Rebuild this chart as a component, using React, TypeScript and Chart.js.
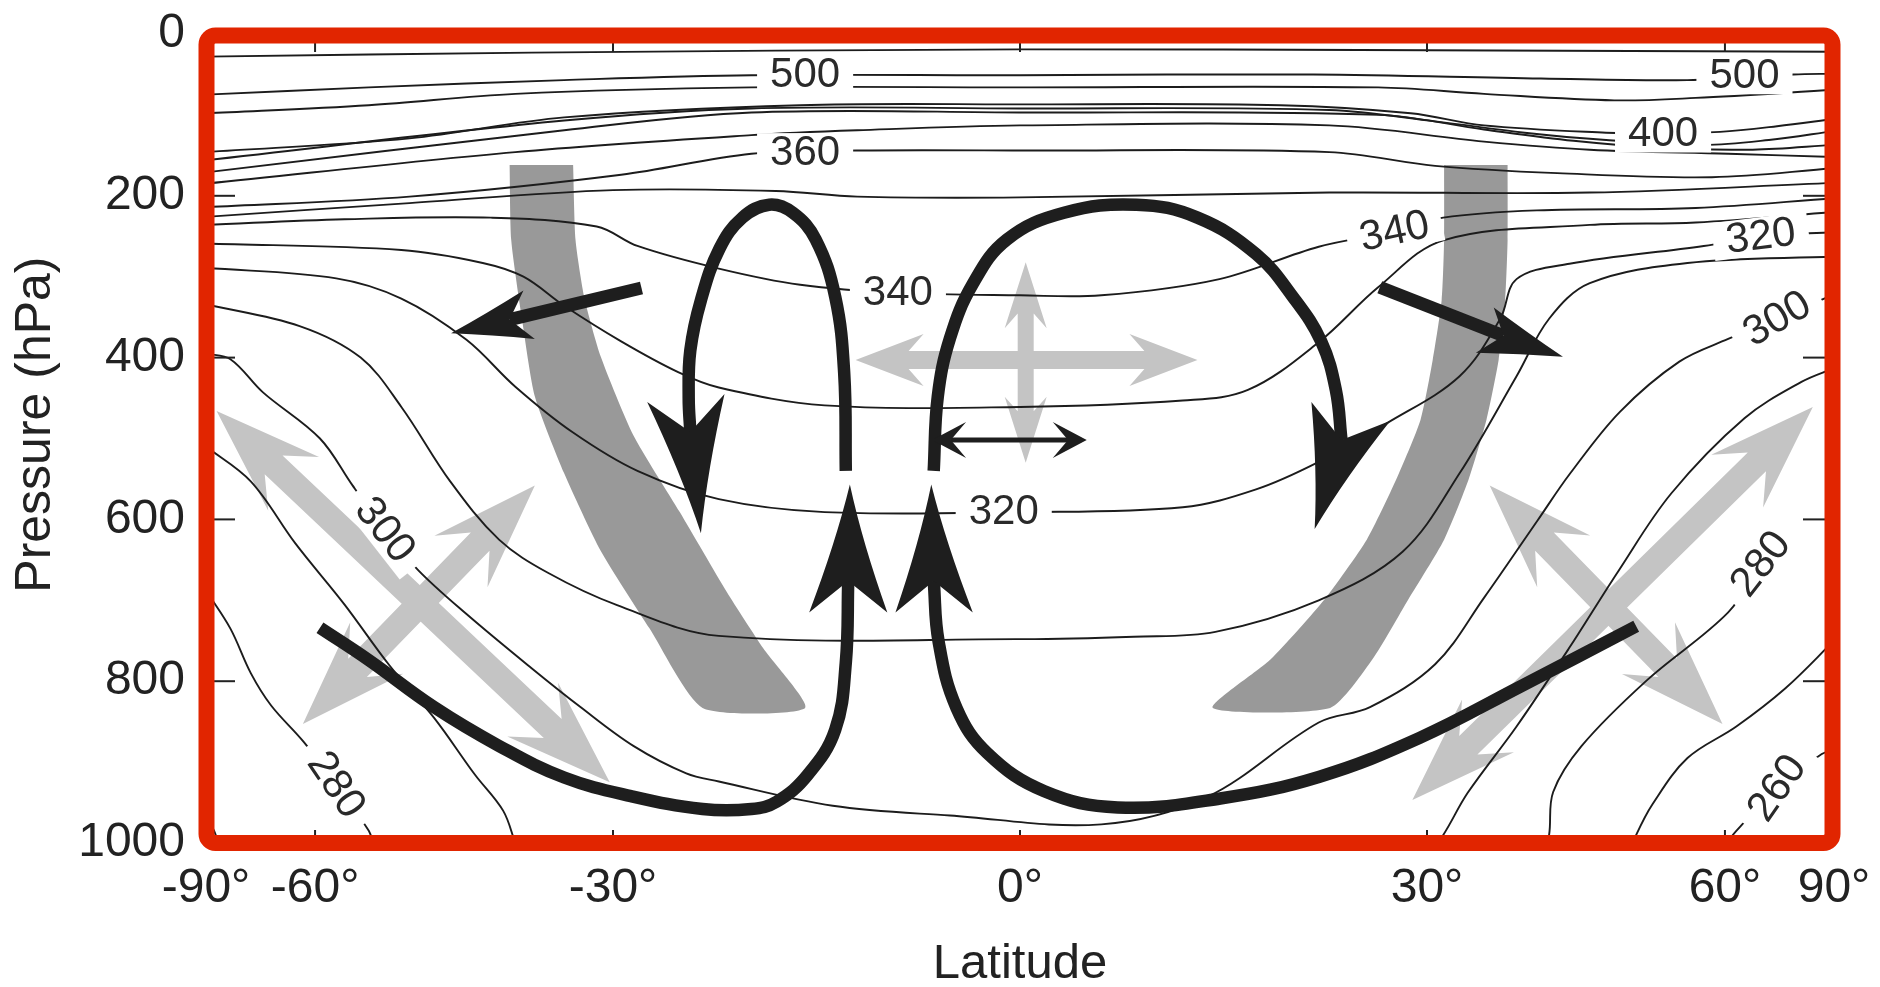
import React, { useEffect, useRef } from "react";
import { Chart, registerables } from "chart.js";

Chart.register(...registerables);

// Every point is [sin(latitude), pressure in hPa]
type Pt = [number, number];

const LAT_TICKS = [-90, -60, -30, 0, 30, 60, 90];
const PRESSURE_TICKS = [0, 200, 400, 600, 800, 1000];

// ---- potential temperature isentropes (K) ----
const THETA_TOP: Pt[] = [[-1, 28], [-0.6, 23], [0, 19], [0.5, 20], [1, 22]];
const THETA_500: Pt[] = [[-1, 75], [-0.8, 66], [-0.56, 57], [-0.33, 51], [0, 51], [0.36, 50], [0.64, 55], [0.82, 57], [0.95, 50], [1, 49]];
const THETA_460: Pt[] = [[-1, 98], [-0.8, 88], [-0.62, 74], [-0.33, 66], [0, 66], [0.44, 66], [0.57, 74], [0.73, 82], [0.83, 79], [1, 69]];
const THETA_400: Pt[] = [[-1, 146], [-0.75, 129], [-0.56, 103], [-0.27, 88], [0, 87], [0.32, 88], [0.48, 98], [0.57, 113], [0.72, 122], [0.79, 123], [0.86, 121], [0.93, 114], [1, 105]];
const THETA_390: Pt[] = [[-1, 156], [-0.56, 107], [-0.33, 92], [0, 92], [0.38, 94], [0.51, 108], [0.62, 122], [0.72, 131], [0.84, 137], [0.92, 131], [1, 120]];
const THETA_380: Pt[] = [[-1, 171], [-0.56, 119], [-0.33, 97], [0, 97], [0.44, 100], [0.57, 118], [0.68, 132], [0.78, 140], [0.9, 143], [1, 137]];
const THETA_370: Pt[] = [[-1, 185], [-0.62, 146], [-0.33, 125], [-0.2, 119], [0, 113], [0.38, 113], [0.57, 133], [0.7, 143], [0.87, 148], [1, 152]];
const THETA_360: Pt[] = [[-1, 214], [-0.75, 201], [-0.49, 174], [-0.33, 148], [-0.2, 144], [0, 144], [0.38, 146], [0.51, 163], [0.66, 172], [0.85, 177], [1, 166]];
const THETA_350: Pt[] = [[-1, 226], [-0.75, 209], [-0.5, 193], [-0.3, 194], [-0.2, 201], [0, 202], [0.38, 196], [0.7, 196], [1, 184]];
const THETA_340: Pt[] = [[-1, 236], [-0.83, 229], [-0.65, 227], [-0.52, 238], [-0.47, 262], [-0.37, 290], [-0.27, 310], [-0.15, 320], [0, 323], [0.1, 323], [0.245, 303], [0.367, 263], [0.46, 244], [0.52, 227], [0.635, 218], [0.83, 215], [1, 203]];
const THETA_330: Pt[] = [[-1, 259], [-0.76, 267], [-0.66, 283], [-0.61, 300], [-0.56, 336], [-0.49, 380], [-0.42, 418], [-0.37, 437], [-0.24, 459], [0, 461], [0.2, 453], [0.28, 440], [0.367, 381], [0.44, 313], [0.52, 255], [0.7, 236], [0.83, 233], [1, 220]];
const THETA_320: Pt[] = [[-1, 289], [-0.84, 302], [-0.76, 327], [-0.68, 378], [-0.62, 436], [-0.55, 492], [-0.47, 540], [-0.37, 575], [-0.24, 591], [0, 591], [0.2, 585], [0.29, 563], [0.367, 529], [0.451, 481], [0.54, 423], [0.59, 352], [0.61, 303], [0.675, 284], [0.84, 262], [0.91, 250], [1, 245]];
const THETA_310: Pt[] = [[-1, 334], [-0.885, 361], [-0.81, 400], [-0.76, 461], [-0.7, 553], [-0.64, 625], [-0.58, 666], [-0.495, 706], [-0.37, 744], [0, 748], [0.14, 745], [0.24, 739], [0.367, 700], [0.47, 640], [0.54, 543], [0.61, 423], [0.65, 352], [0.7, 308], [0.82, 283], [1, 275]];
const THETA_300: Pt[] = [[-1, 395], [-0.97, 402], [-0.93, 443], [-0.86, 500], [-0.82, 558], [-0.78, 613], [-0.74, 662], [-0.68, 717], [-0.6, 784], [-0.54, 832], [-0.475, 880], [-0.41, 914], [-0.37, 924], [-0.23, 954], [-0.086, 966], [0.1, 977], [0.23, 943], [0.367, 851], [0.43, 832], [0.51, 779], [0.57, 697], [0.636, 601], [0.676, 543], [0.737, 467], [0.81, 405], [0.87, 377], [0.93, 352], [1, 322]];
const THETA_290_S: Pt[] = [[-1, 510], [-0.945, 553], [-0.89, 630], [-0.83, 705], [-0.775, 780], [-0.72, 845], [-0.67, 915], [-0.635, 960], [-0.62, 1000]];
const THETA_290_N: Pt[] = [[0.51, 1000], [0.52, 990], [0.55, 938], [0.61, 856], [0.674, 760], [0.735, 664], [0.8, 568], [0.89, 475], [0.96, 430], [1, 413]];
const THETA_280_S: Pt[] = [[-1, 688], [-0.97, 735], [-0.945, 790], [-0.92, 830], [-0.88, 875], [-0.84, 928], [-0.8, 985], [-0.795, 1000]];
const THETA_280_N: Pt[] = [[0.645, 1000], [0.65, 990], [0.655, 937], [0.69, 880], [0.77, 799], [0.87, 715], [0.91, 655]];
const THETA_270_S: Pt[] = [[-1, 967], [-0.99, 985], [-0.985, 1000]];
const THETA_270_N: Pt[] = [[0.755, 1000], [0.757, 990], [0.777, 952], [0.82, 895], [0.88, 856], [0.94, 809], [1, 750]];
const THETA_260_N: Pt[] = [[0.868, 1000], [0.88, 985], [0.93, 932], [0.985, 890], [1, 885]];

const CONTOURS: Pt[][] = [
  THETA_TOP, THETA_500, THETA_460, THETA_400, THETA_390, THETA_380, THETA_370, THETA_360,
  THETA_350, THETA_340, THETA_330, THETA_320, THETA_310, THETA_300,
  THETA_290_S, THETA_290_N, THETA_280_S, THETA_280_N, THETA_270_S, THETA_270_N, THETA_260_N,
];

// [text, sinLat, hPa, rotation deg]
const CONTOUR_LABELS: [string, number, number, number][] = [
  ["500", -0.264, 50, 0], ["360", -0.264, 146, 0], ["340", -0.15, 320, 0], ["320", -0.02, 590, 0],
  ["300", -0.78, 613, 52], ["280", -0.84, 928, 56],
  ["500", 0.89, 51, 0], ["400", 0.79, 123, 0], ["340", 0.46, 244, -12], ["320", 0.91, 250, -7],
  ["300", 0.93, 352, -30], ["280", 0.91, 655, -52], ["260", 0.93, 932, -55],
];

// ---- dark grey bands ----
const BAND_SH: Pt[] = [[-0.627, 162], [-0.625, 255], [-0.612, 351], [-0.596, 448], [-0.56, 543], [-0.515, 639], [-0.455, 735], [-0.39, 833], [-0.264, 833], [-0.315, 760], [-0.36, 690], [-0.418, 591], [-0.475, 496], [-0.515, 399], [-0.535, 327], [-0.546, 255], [-0.549, 162]];
const BAND_NH: Pt[] = [[0.521, 162], [0.521, 255], [0.518, 329], [0.507, 403], [0.492, 477], [0.462, 551], [0.426, 625], [0.374, 699], [0.308, 773], [0.237, 833], [0.381, 833], [0.433, 773], [0.477, 699], [0.521, 625], [0.551, 551], [0.573, 477], [0.588, 403], [0.596, 329], [0.599, 255], [0.599, 162]];

// ---- Hadley circulation paths ----
const HADLEY_SH_UPPER: Pt[] = [[-0.214, 540], [-0.216, 419], [-0.227, 325], [-0.251, 254], [-0.279, 221], [-0.308, 211], [-0.341, 227], [-0.369, 265], [-0.392, 329], [-0.405, 391], [-0.407, 450], [-0.405, 492]];
const HADLEY_SH_LOWER: Pt[] = [[-0.86, 734], [-0.8, 774], [-0.72, 832], [-0.64, 880], [-0.56, 919], [-0.478, 942], [-0.39, 958], [-0.33, 958], [-0.299, 949], [-0.261, 916], [-0.227, 860], [-0.214, 777], [-0.211, 676]];
const HADLEY_NH_UPPER: Pt[] = [[-0.106, 540], [-0.101, 448], [-0.086, 376], [-0.058, 309], [-0.016, 254], [0.054, 221], [0.143, 211], [0.218, 227], [0.29, 272], [0.336, 326], [0.37, 380], [0.388, 440], [0.395, 502]];
const HADLEY_NH_LOWER: Pt[] = [[0.757, 732], [0.614, 807], [0.491, 870], [0.368, 918], [0.246, 945], [0.12, 956], [0.03, 936], [-0.04, 889], [-0.078, 833], [-0.1, 751], [-0.106, 676]];
const HADLEY_PATHS: Pt[][] = [HADLEY_SH_UPPER, HADLEY_SH_LOWER, HADLEY_NH_UPPER, HADLEY_NH_LOWER];

// arrow heads: tip, barbA, notch, barbB
const HADLEY_HEADS: [Pt, Pt, Pt, Pt][] = [
  [[-0.392, 617], [-0.458, 455], [-0.405, 492], [-0.363, 445]],
  [[-0.209, 557], [-0.259, 715], [-0.211, 676], [-0.163, 715]],
  [[-0.109, 557], [-0.153, 715], [-0.106, 676], [-0.058, 715]],
  [[0.362, 612], [0.358, 455], [0.395, 502], [0.455, 478]],
];

// eddy flux arrows: start, tip, barbA, notch, barbB
const EDDY_ARROWS: [Pt, Pt, Pt, Pt, Pt][] = [
  [[-0.465, 314], [-0.699, 370], [-0.61, 317], [-0.627, 353], [-0.596, 377]],
  [[0.442, 313], [0.667, 399], [0.582, 338], [0.594, 373], [0.56, 394]],
];

// light grey mixing arrows (double headed), tip to tip
const MIXING_ARROWS: [Pt, Pt][] = [
  [[-0.987, 466], [-0.504, 925]],
  [[-0.881, 853], [-0.596, 558]],
  [[0.482, 947], [0.974, 461]],
  [[0.577, 558], [0.863, 853]],
];
const TROPICAL_ARROWS: [Pt, Pt][] = [
  [[-0.202, 403], [0.218, 403]],
  [[0.007, 282], [0.007, 530]],
];
const EXCHANGE_ARROW: [Pt, Pt] = [[-0.108, 502], [0.082, 502]];

const FONT = '"Liberation Sans", Arial, Helvetica, sans-serif';
const INK = "#1e1e1e";

function toPx(chart: any, pt: Pt): [number, number] {
  return [chart.scales.x.getPixelForValue(pt[0]), chart.scales.y.getPixelForValue(pt[1])];
}

function fillPoly(ctx: CanvasRenderingContext2D, pts: number[][]) {
  ctx.beginPath();
  ctx.moveTo(pts[0][0], pts[0][1]);
  for (let i = 1; i < pts.length; i++) ctx.lineTo(pts[i][0], pts[i][1]);
  ctx.closePath();
  ctx.fill();
}

function doubleArrow(ctx: CanvasRenderingContext2D, a: number[], b: number[], shaft: number, headLen: number, headHalf: number, notch: number) {
  const dx = b[0] - a[0], dy = b[1] - a[1];
  const len = Math.hypot(dx, dy);
  const ux = dx / len, uy = dy / len, nx = -uy, ny = ux;
  const P = (t: number, o: number) => [a[0] + ux * t + nx * o, a[1] + uy * t + ny * o];
  const hn = headLen * notch;
  fillPoly(ctx, [
    P(0, 0), P(headLen, headHalf), P(hn, shaft / 2), P(len - hn, shaft / 2), P(len - headLen, headHalf),
    P(len, 0), P(len - headLen, -headHalf), P(len - hn, -shaft / 2), P(hn, -shaft / 2), P(headLen, -headHalf),
  ]);
}

function dartHead(ctx: CanvasRenderingContext2D, tip: number[], barbA: number[], notch: number[], barbB: number[], concave: number) {
  const mid = [(tip[0] + notch[0]) / 2, (tip[1] + notch[1]) / 2];
  const ctrl = (b: number[]) => {
    const m = [(b[0] + tip[0]) / 2, (b[1] + tip[1]) / 2];
    return [m[0] + (mid[0] - m[0]) * concave, m[1] + (mid[1] - m[1]) * concave];
  };
  const cA = ctrl(barbA), cB = ctrl(barbB);
  ctx.beginPath();
  ctx.moveTo(tip[0], tip[1]);
  ctx.quadraticCurveTo(cA[0], cA[1], barbA[0], barbA[1]);
  ctx.lineTo(notch[0], notch[1]);
  ctx.lineTo(barbB[0], barbB[1]);
  ctx.quadraticCurveTo(cB[0], cB[1], tip[0], tip[1]);
  ctx.closePath();
  ctx.fill();
}

const decorPlugin = {
  id: "decor",
  beforeDatasetsDraw(chart: any) {
    const { ctx, chartArea: a } = chart;
    ctx.save();
    ctx.beginPath();
    ctx.rect(a.left, a.top, a.right - a.left, a.bottom - a.top);
    ctx.clip();
    ctx.fillStyle = "#c4c4c4";
    for (const [f, t] of MIXING_ARROWS) doubleArrow(ctx, toPx(chart, f), toPx(chart, t), 26, 106, 37, 0.74);
    doubleArrow(ctx, toPx(chart, TROPICAL_ARROWS[0][0]), toPx(chart, TROPICAL_ARROWS[0][1]), 18, 68, 26, 0.78);
    doubleArrow(ctx, toPx(chart, TROPICAL_ARROWS[1][0]), toPx(chart, TROPICAL_ARROWS[1][1]), 16, 66, 21, 0.78);
    ctx.restore();
  },
  afterDatasetDraw(chart: any, args: any) {
    const ds = chart.data.datasets[args.index];
    if (!ds || !ds.labelLayer) return;
    const { ctx } = chart;
    ctx.save();
    ctx.font = `42px ${FONT}`;
    ctx.textAlign = "center";
    ctx.textBaseline = "middle";
    for (const [text, s, p, rot] of CONTOUR_LABELS) {
      const [X, Y] = toPx(chart, [s, p]);
      ctx.save();
      ctx.translate(X, Y);
      ctx.rotate((rot * Math.PI) / 180);
      const w = ctx.measureText(text).width;
      ctx.fillStyle = "#ffffff";
      ctx.fillRect(-w / 2 - 13, -19, w + 26, 38);
      ctx.fillStyle = "#2a2a2a";
      ctx.fillText(text, 0, 1);
      ctx.restore();
    }
    ctx.restore();
  },
  afterDatasetsDraw(chart: any) {
    const { ctx } = chart;
    ctx.save();
    ctx.fillStyle = INK;
    ctx.strokeStyle = INK;
    for (const [tip, bA, n, bB] of HADLEY_HEADS) {
      dartHead(ctx, toPx(chart, tip), toPx(chart, bA), toPx(chart, n), toPx(chart, bB), 0.3);
    }
    for (const [start, tip, bA, n, bB] of EDDY_ARROWS) {
      const s0 = toPx(chart, start), nn = toPx(chart, n);
      ctx.lineWidth = 13;
      ctx.lineCap = "butt";
      ctx.beginPath();
      ctx.moveTo(s0[0], s0[1]);
      ctx.lineTo(nn[0], nn[1]);
      ctx.stroke();
      dartHead(ctx, toPx(chart, tip), toPx(chart, bA), nn, toPx(chart, bB), 0.12);
    }
    const a = toPx(chart, EXCHANGE_ARROW[0]), b = toPx(chart, EXCHANGE_ARROW[1]);
    const L = 34, hw = 18, notch = 0.55;
    ctx.lineWidth = 5;
    ctx.beginPath();
    ctx.moveTo(a[0] + L * notch, a[1]);
    ctx.lineTo(b[0] - L * notch, b[1]);
    ctx.stroke();
    fillPoly(ctx, [[a[0], a[1]], [a[0] + L, a[1] - hw], [a[0] + L * notch, a[1]], [a[0] + L, a[1] + hw]]);
    fillPoly(ctx, [[b[0], b[1]], [b[0] - L, b[1] - hw], [b[0] - L * notch, b[1]], [b[0] - L, b[1] + hw]]);
    ctx.restore();
  },
  afterDraw(chart: any) {
    const { ctx, chartArea: a, scales } = chart;
    ctx.save();
    ctx.strokeStyle = "#222";
    ctx.lineWidth = 2;
    const seg = (x1: number, y1: number, x2: number, y2: number) => {
      ctx.beginPath();
      ctx.moveTo(x1, y1);
      ctx.lineTo(x2, y2);
      ctx.stroke();
    };
    for (const lat of LAT_TICKS) {
      if (Math.abs(lat) === 90) continue;
      const X = scales.x.getPixelForValue(Math.sin((lat * Math.PI) / 180));
      seg(X, a.top, X, a.top + 18);
      seg(X, a.bottom, X, a.bottom - 13);
    }
    for (const p of PRESSURE_TICKS) {
      if (p === 0 || p === 1000) continue;
      const Y = scales.y.getPixelForValue(p);
      seg(a.left, Y, a.left + 29, Y);
      seg(a.right, Y, a.right - 31, Y);
    }
    ctx.strokeStyle = "#e12500";
    ctx.lineWidth = 16;
    ctx.lineJoin = "round";
    ctx.beginPath();
    if ((ctx as any).roundRect) (ctx as any).roundRect(a.left + 0.5, a.top + 1.5, a.right - a.left - 2, a.bottom - a.top - 1.5, 9);
    else ctx.rect(a.left + 0.5, a.top + 1.5, a.right - a.left - 2, a.bottom - a.top - 1.5);
    ctx.stroke();
    ctx.restore();
  },
};

const xy = (pts: Pt[]) => pts.map(([x, y]) => ({ x, y }));

export default function App() {
  const ref = useRef<HTMLCanvasElement | null>(null);

  useEffect(() => {
    if (!ref.current) return;
    const datasets: any[] = [];
    for (const band of [BAND_SH, BAND_NH]) {
      datasets.push({
        data: xy(band), fill: "shape", backgroundColor: "#999999", borderColor: "rgba(0,0,0,0)",
        borderWidth: 0, tension: 0.2, pointRadius: 0, order: 5,
      });
    }
    for (const c of CONTOURS) {
      datasets.push({
        data: xy(c), borderColor: "#1c1c1c", borderWidth: 1.9, tension: 0.35, pointRadius: 0, fill: false, order: 4,
      });
    }
    datasets.push({ data: [], labelLayer: true, pointRadius: 0, showLine: false, order: 3 });
    for (const h of HADLEY_PATHS) {
      datasets.push({
        data: xy(h), borderColor: INK, borderWidth: 12.5, tension: 0.4, pointRadius: 0, fill: false,
        borderCapStyle: "butt", borderJoinStyle: "round", order: 2,
      });
    }

    const chart = new Chart(ref.current, {
      type: "line",
      data: { datasets },
      options: {
        animation: false,
        responsive: true,
        maintainAspectRatio: false,
        events: [],
        layout: { padding: { left: 0, right: 46, top: 34, bottom: 0 } },
        plugins: { legend: { display: false }, tooltip: { enabled: false } },
        elements: { point: { radius: 0 } },
        scales: {
          x: {
            type: "linear",
            min: -1,
            max: 1,
            grid: { display: false, drawTicks: false },
            border: { display: false },
            afterBuildTicks: (s: any) => {
              s.ticks = LAT_TICKS.map((l) => ({ value: Math.sin((l * Math.PI) / 180) }));
            },
            afterFit: (s: any) => {
              s.height = 144;
              s.paddingLeft = 0;
              s.paddingRight = 0;
              s.paddingTop = 0;
              s.paddingBottom = 0;
            },
            ticks: {
              autoSkip: false,
              maxRotation: 0,
              minRotation: 0,
              padding: 17,
              color: "#222",
              font: { family: FONT, size: 48 },
              callback: (_v: any, i: number) => `${LAT_TICKS[i]}°`,
            },
            title: {
              display: true,
              text: "Latitude",
              color: "#222",
              font: { family: FONT, size: 49, lineHeight: 1 },
              padding: { top: 0, bottom: -2 },
            },
          },
          y: {
            type: "linear",
            reverse: true,
            min: 0,
            max: 1000,
            grid: { display: false, drawTicks: false },
            border: { display: false },
            afterBuildTicks: (s: any) => {
              s.ticks = PRESSURE_TICKS.map((v) => ({ value: v }));
            },
            afterFit: (s: any) => {
              s.width = 206;
              s.paddingLeft = 0;
              s.paddingRight = 0;
              s.paddingTop = 0;
              s.paddingBottom = 0;
            },
            ticks: {
              autoSkip: false,
              padding: 21,
              color: "#222",
              font: { family: FONT, size: 48 },
              callback: (v: any) => String(v),
            },
            title: {
              display: true,
              text: "  Pressure (hPa)",
              color: "#222",
              font: { family: FONT, size: 50 },
              padding: { top: 6, bottom: 0 },
            },
          },
        },
      } as any,
      plugins: [decorPlugin as any],
    });
    return () => chart.destroy();
  }, []);

  return (
    <div style={{ position: "fixed", left: 0, top: 0, width: "100vw", height: "100vh", background: "#ffffff" }}>
      <canvas ref={ref} />
    </div>
  );
}
